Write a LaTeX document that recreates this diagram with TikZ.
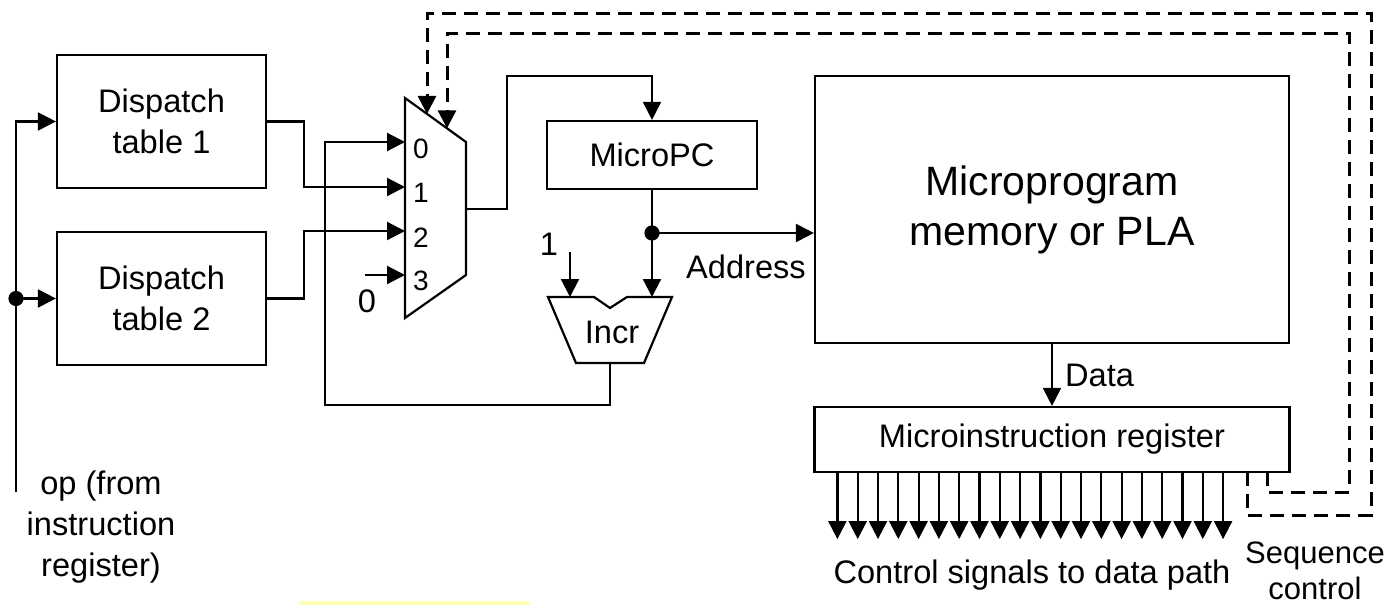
\documentclass[tikz,border=0pt]{standalone}
\usepackage{fontspec}
\setmainfont{Liberation Sans}
\usetikzlibrary{arrows.meta, positioning}
\definecolor{marker}{HTML}{FFFFB4}

\begin{document}
\begin{tikzpicture}[
    x=0.5pt, y=-0.5pt,
    every node/.style = {font=\fontsize{16.3}{20.5}\selectfont},
    blk/.style   = {draw, line width=1.1pt, align=center, inner sep=0pt},
    dtab/.style  = {blk, minimum width=104.5pt, minimum height=66.5pt},
    lbl/.style   = {align=center, inner sep=0pt},
    port/.style  = {inner sep=0pt, font=\fontsize{14}{16}\selectfont},
    wire/.style  = {line width=1.1pt, line join=miter},
    arr/.style   = {-{Triangle[length=9pt, width=9pt]}, line width=1.1pt},
    seq/.style   = {-{Triangle[length=9pt, width=9pt]}, line width=1.5pt,
                    dash pattern=on 7pt off 4pt},
    dot/.style   = {fill=black},
]

\useasboundingbox (0,0) rectangle (1389,605);

% --- dispatch tables and op input -------------------------------------
\node[dtab] (disp1) at (161.5,121.5) {Dispatch\\table 1};
\node[dtab] (disp2) at (161.5,298.5) {Dispatch\\table 2};

\coordinate (opEnd) at (16,492);
\coordinate (opTap) at (opEnd |- disp2.west);
\draw[arr] (opEnd) |- (disp1.west);
\draw[arr] (opTap) -- (disp2.west);
\fill[dot] (opTap) circle (3.8pt);
\node[lbl] (opLbl) at (101,527) {op (from\\instruction\\register)};

% --- multiplexer --------------------------------------------------------
\draw[wire] (405,98) -- (466,142) -- (466,275) -- (405,318) -- cycle;
\coordinate (in0) at (405,142);
\coordinate (in1) at (405,187);
\coordinate (in2) at (405,231);
\coordinate (in3) at (405,275);
\coordinate (muxout) at (466,209);
\coordinate (selA) at (427,113.9);
\coordinate (selB) at (447,128.3);
\node[port] (p0) at (421,149) {0};
\node[port] (p1) at (421,193) {1};
\node[port] (p2) at (421,238) {2};
\node[port] (p3) at (421,281) {3};

\draw[arr] (disp1.east) -- ++(18.5pt,0) |- (in1);
\draw[arr] (disp2.east) -- ++(18.5pt,0) |- (in2);
\coordinate (zeroIn) at (365,275);
\draw[arr] (zeroIn) -- (in3);
\node[lbl] (zero) at (367,301) {0};

% --- MicroPC and incrementer --------------------------------------------
\node[blk, minimum width=105pt, minimum height=34pt] (upc) at (652,155) {MicroPC};
\draw[arr] (muxout) -| (507,76) -| (upc.north);

\draw[wire] (548,297) -- (594,297) -- (610,308) -- (627,297) -- (672,297)
            -- (644,363) -- (576,363) -- cycle;
\node (incr) at (612,332) {Incr};
\coordinate (incrA) at (570,297);
\coordinate (incrB) at (652,297);
\coordinate (incrOut) at (610,363);

\coordinate (addr) at (652,233);
\draw[wire] (upc.south) -- (addr);
\draw[arr] (addr) -- (incrB);
\fill[dot] (addr) circle (3.8pt);

\node[lbl] (one) at (549,244) {1};
\coordinate (oneIn) at (570,252);
\draw[arr] (oneIn) -- (incrA);

\draw[arr] (incrOut) |- (325,405) |- (in0);

% --- microprogram memory and register ------------------------------------
\node[blk, minimum width=237pt, minimum height=133.5pt,
      font=\fontsize{20.5}{25}\selectfont] (mem) at (1052,209.5)
      {Microprogram\\memory or PLA};
\node[blk, minimum width=237.5pt, minimum height=32.5pt] (mir) at (1052,439.5)
      {Microinstruction register};

\draw[arr] (addr) -- (addr -| mem.west);
\node[lbl] (addrLbl) at (746,267) {Address};
\draw[arr] (mem.south) -- node[right=6pt, lbl] (dataLbl) {Data} (mir.north);

% control signals
\foreach \i in {0,...,19}
  \draw[arr] (mir.south west) ++(12pt+10.15pt*\i,0) -- ++(0,-33pt);
\node[lbl] (ctlLbl) at (1032,575) {Control signals to data path};

% --- sequence control back to the mux select ---------------------------
\coordinate (seqA) at (1247,472);
\coordinate (seqB) at (1267,472);
\draw[seq] (seqA) |- (1371,515) -- (1371,13) -| (selA);
\draw[seq] (seqB) |- (1349,492) -- (1349,33) -| (selB);
\node[lbl, font=\fontsize{15.5}{18}\selectfont] (seqLbl) at (1315,571) {Sequence\\control};

\fill[marker] (300,601) rectangle (530,605);

\end{tikzpicture}
\end{document}
